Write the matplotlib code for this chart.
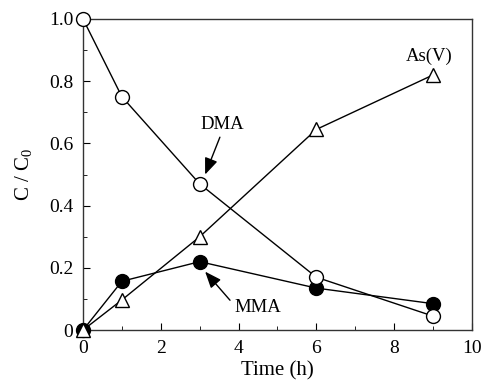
import numpy as np
from matplotlib import pyplot as plt
from matplotlib.ticker import MultipleLocator, FixedFormatter, FixedLocator

plt.rcParams['font.family'] = ['Liberation Serif', 'DejaVu Serif']
plt.rcParams['mathtext.fontset'] = 'custom'
plt.rcParams['mathtext.rm'] = 'Liberation Serif'

time_h = [0, 1, 3, 6, 9]
dma = [1.0, 0.75, 0.47, 0.17, 0.045]
mma = [0.0, 0.157, 0.22, 0.135, 0.085]
asv = [0.0, 0.097, 0.30, 0.645, 0.82]

fig = plt.figure(figsize=(4.84, 3.87), dpi=100)
ax = fig.add_axes([0.1715, 0.147, 0.8035, 0.804])

ax.plot(time_h, mma, color='black', lw=1, marker='o', markersize=10,
        markerfacecolor='black', markeredgecolor='black', zorder=4, clip_on=False)
ax.plot(time_h, dma, color='black', lw=1, marker='o', markersize=10,
        markerfacecolor='white', markeredgecolor='black', markeredgewidth=1,
        zorder=5, clip_on=False)
ax.plot(time_h, asv, color='black', lw=1, marker='^', markersize=10.5,
        markerfacecolor='white', markeredgecolor='black', markeredgewidth=1,
        zorder=6, clip_on=False)

ax.set_xlim(0, 10)
ax.set_ylim(0, 1.0)
ax.xaxis.set_major_locator(MultipleLocator(2))
ax.xaxis.set_minor_locator(MultipleLocator(1))
ax.yaxis.set_major_locator(FixedLocator([0, 0.2, 0.4, 0.6, 0.8, 1.0]))
ax.yaxis.set_major_formatter(FixedFormatter(['0', '0.2', '0.4', '0.6', '0.8', '1.0']))
ax.yaxis.set_minor_locator(MultipleLocator(0.1))
ax.tick_params(which='both', direction='in', labelsize=14)
ax.tick_params(axis='y', pad=7)
ax.tick_params(axis='x', pad=7)
ax.tick_params(which='major', length=5)
ax.tick_params(which='minor', length=3)
for s in ax.spines.values():
    s.set_linewidth(1)
    s.set_color('#333333')

ax.set_xlabel('Time (h)', fontsize=15, labelpad=3)
ax.set_ylabel(r'C / C$_0$', fontsize=15, labelpad=10)

arrow = dict(arrowstyle='-|>,head_length=1.0,head_width=0.4', color='black', lw=1,
             shrinkA=0, shrinkB=0)
ax.text(8.9, 0.88, 'As(V)', ha='center', va='center', fontsize=13.5)
ax.annotate('', xy=(3.14, 0.50), xytext=(3.52, 0.62), arrowprops=arrow)
ax.text(3.57, 0.66, 'DMA', ha='center', va='center', fontsize=13.5)
ax.annotate('', xy=(3.14, 0.188), xytext=(3.78, 0.096), arrowprops=arrow)
ax.text(4.5, 0.074, 'MMA', ha='center', va='center', fontsize=13.5)

fig.savefig('out.png', dpi=100)
